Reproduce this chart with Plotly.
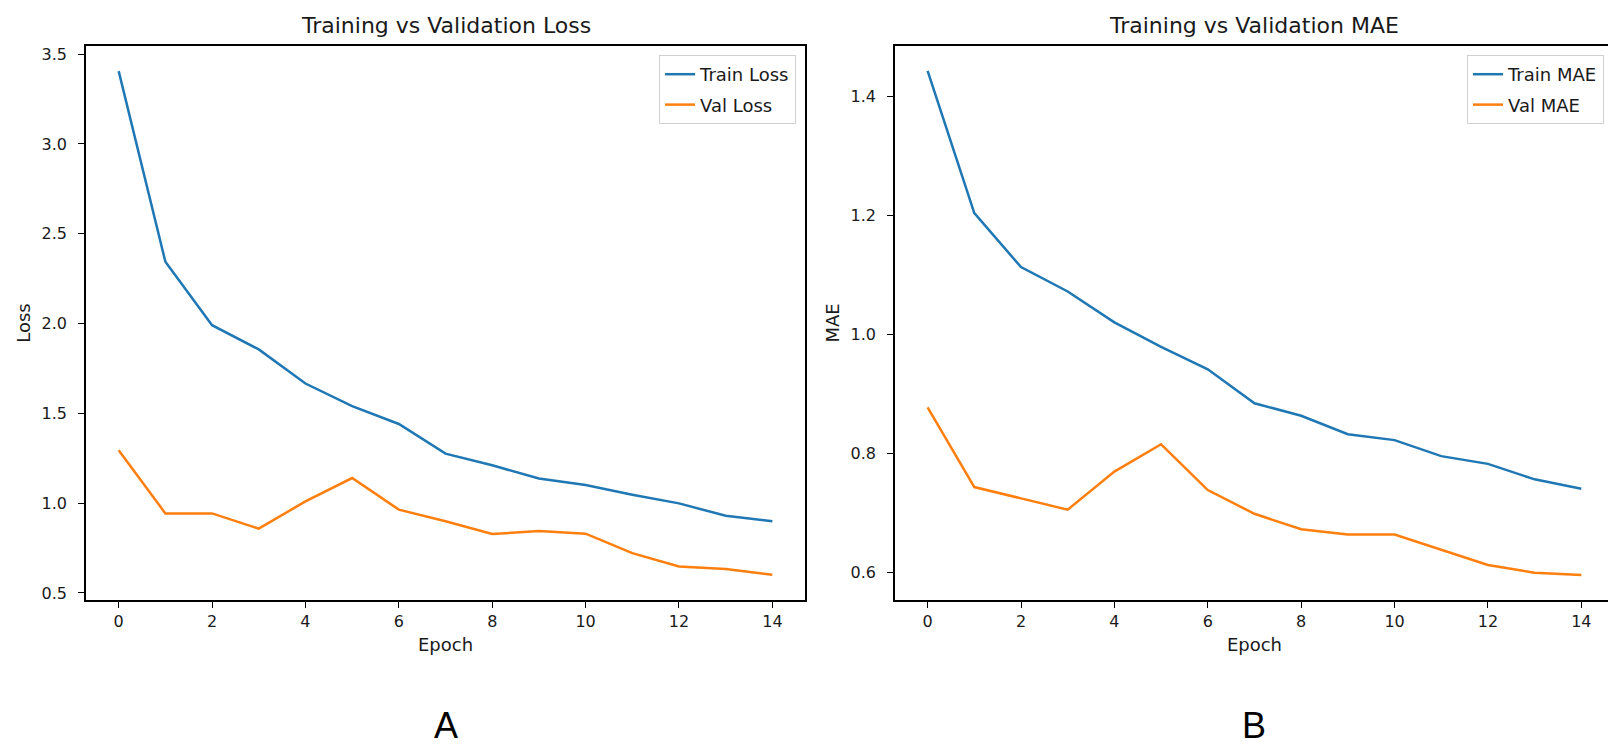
import plotly.graph_objects as go

# 读图得到的数据：每个 epoch 的训练/验证损失与 MAE
epochs = list(range(15))
train_loss = [3.405, 2.344, 1.991, 1.856, 1.666, 1.540, 1.441, 1.276, 1.211, 1.137, 1.101, 1.047, 0.999, 0.930, 0.899]
val_loss = [1.294, 0.943, 0.943, 0.858, 1.010, 1.140, 0.964, 0.899, 0.828, 0.845, 0.830, 0.722, 0.648, 0.633, 0.601]
train_mae = [1.443, 1.204, 1.113, 1.072, 1.020, 0.979, 0.941, 0.884, 0.863, 0.832, 0.822, 0.795, 0.782, 0.756, 0.740]
val_mae = [0.877, 0.743, 0.724, 0.705, 0.769, 0.815, 0.738, 0.698, 0.672, 0.663, 0.663, 0.637, 0.612, 0.599, 0.595]
x_ticks = [0, 2, 4, 6, 8, 10, 12, 14]

BLUE = "#1f77b4"
ORANGE = "#ff7f0e"
FONT = "DejaVu Sans"
TXT = "#1a1a1a"

fig = go.Figure()

# 左图：Loss
fig.add_trace(go.Scatter(x=epochs, y=train_loss, mode="lines", name="Train Loss", legendgroup="a",
                         line=dict(color=BLUE, width=2.5), xaxis="x", yaxis="y", legend="legend"))
fig.add_trace(go.Scatter(x=epochs, y=val_loss, mode="lines", name="Val Loss", legendgroup="b",
                         line=dict(color=ORANGE, width=2.5), xaxis="x", yaxis="y", legend="legend"))
# 右图：MAE
fig.add_trace(go.Scatter(x=epochs, y=train_mae, mode="lines", name="Train MAE", legendgroup="c",
                         line=dict(color=BLUE, width=2.5), xaxis="x2", yaxis="y2", legend="legend2"))
fig.add_trace(go.Scatter(x=epochs, y=val_mae, mode="lines", name="Val MAE", legendgroup="d",
                         line=dict(color=ORANGE, width=2.5), xaxis="x2", yaxis="y2", legend="legend2"))

axis_style = dict(showline=True, linecolor="black", linewidth=1.5, mirror=True,
                  ticks="outside", ticklen=6, tickwidth=1.3, tickcolor="black",
                  showgrid=False, zeroline=False,
                  tickfont=dict(family=FONT, size=16, color=TXT))
label_font = dict(family=FONT, size=18, color=TXT)

left_dom = [0, 720 / 1530]
right_dom = [810 / 1530, 1]

legend_style = dict(xanchor="right", yanchor="top", y=545 / 554,
                    bgcolor="white", bordercolor="#d0d0d0", borderwidth=1,
                    traceorder="grouped", tracegroupgap=4,
                    font=dict(family=FONT, size=18, color=TXT))

fig.update_layout(
    width=1616, height=744,
    margin=dict(l=78, r=8, t=38, b=152),
    paper_bgcolor="white", plot_bgcolor="white",
    xaxis=dict(domain=left_dom, range=[-0.7, 14.7], tickvals=x_ticks, anchor="y",
               title=dict(text="Epoch", standoff=8, font=label_font), **axis_style),
    yaxis=dict(domain=[0, 1], range=[0.461, 3.545], dtick=0.5, tickformat=".1f", anchor="x",
               ticklabelstandoff=8,
               title=dict(text="Loss", standoff=6, font=label_font), **axis_style),
    xaxis2=dict(domain=right_dom, range=[-0.7, 14.7], tickvals=x_ticks, anchor="y2",
                title=dict(text="Epoch", standoff=8, font=label_font), **axis_style),
    yaxis2=dict(domain=[0, 1], range=[0.553, 1.485], dtick=0.2, tickformat=".1f", anchor="x2",
                ticklabelstandoff=8,
                title=dict(text="MAE", standoff=6, font=label_font), **axis_style),
    legend=dict(x=711 / 1530, **legend_style),
    legend2=dict(x=1520 / 1530, **legend_style),
)

# 子图标题和 A / B 标记
titles = ["Training vs Validation Loss", "Training vs Validation MAE"]
letters = ["A", "B"]
centers = [sum(left_dom) / 2, sum(right_dom) / 2]
for t, c in zip(titles, centers):
    fig.add_annotation(text=t, x=c, y=(592 - 18) / 554, xref="paper", yref="paper",
                       showarrow=False, xanchor="center", yanchor="middle",
                       font=dict(family=FONT, size=22, color=TXT))
for s, c in zip(letters, centers):
    fig.add_annotation(text=s, x=c, y=(592 - 740) / 554, xref="paper", yref="paper",
                       showarrow=False, xanchor="center", yanchor="bottom",
                       font=dict(family="Liberation Sans", size=36, color="black"))

fig.write_html("out.html")
